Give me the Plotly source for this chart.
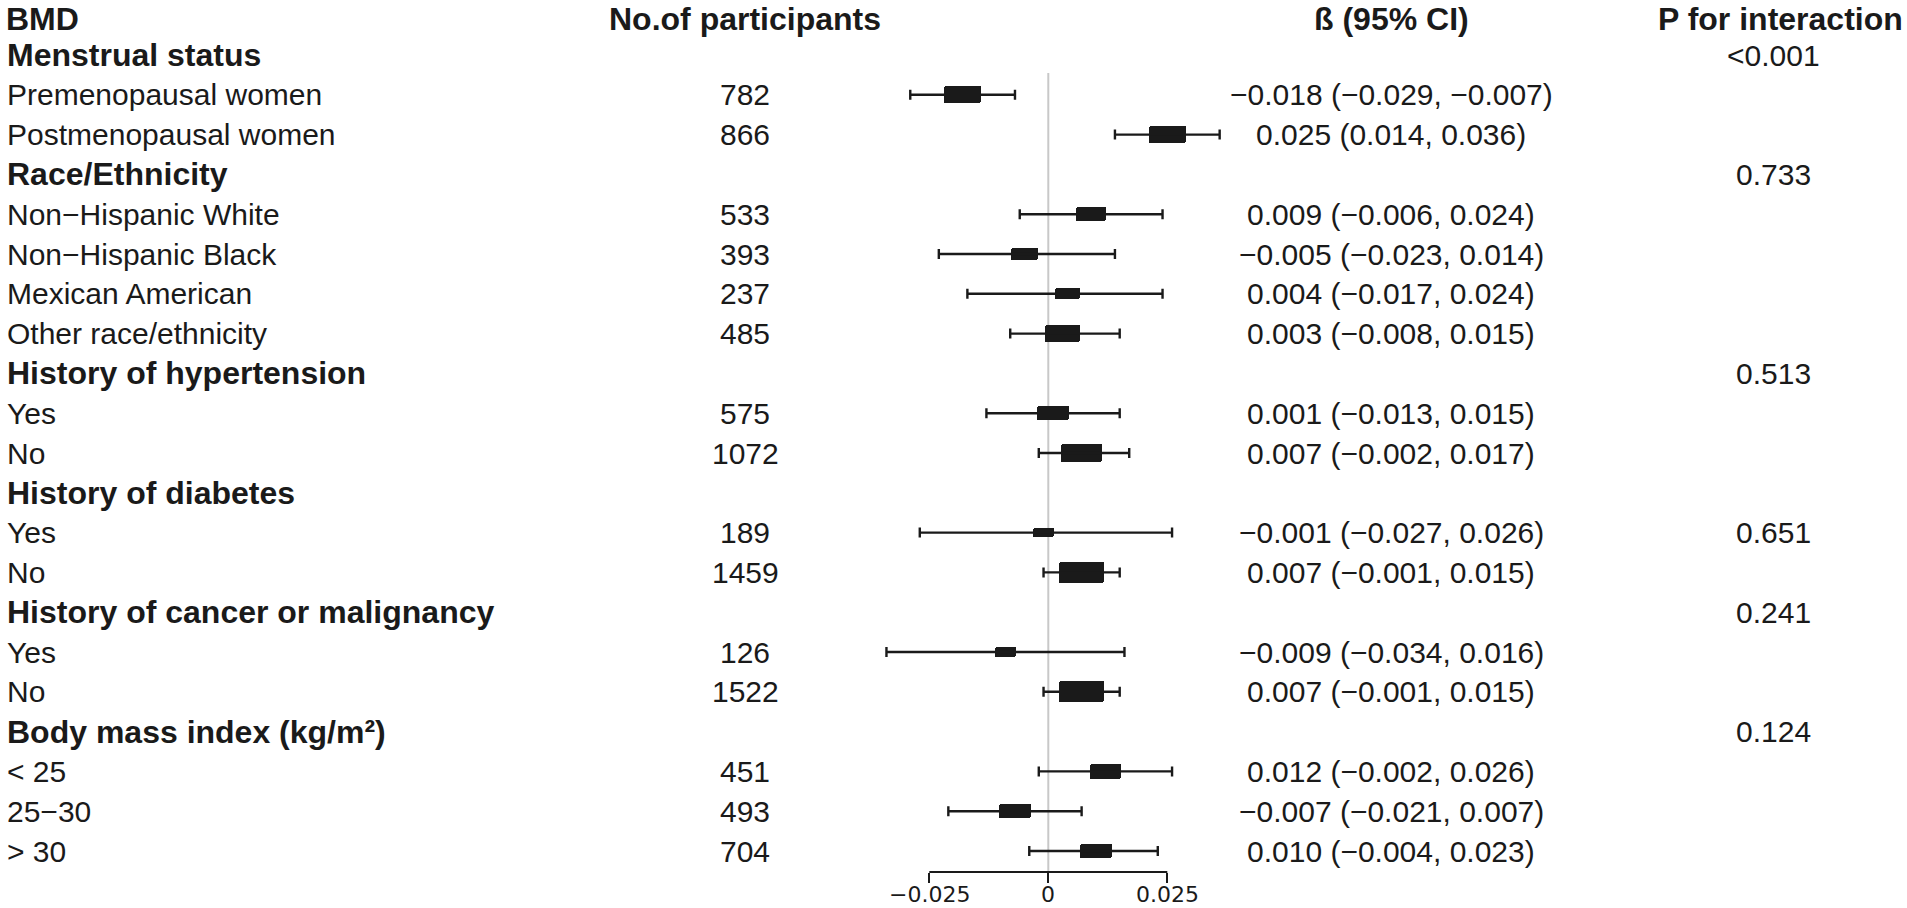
import plotly.graph_objects as go

# rows of the forest plot (top to bottom), headers have no estimate
labels = ["Menstrual status", "Premenopausal women", "Postmenopausal women",
          "Race/Ethnicity", "Non−Hispanic White", "Non−Hispanic Black",
          "Mexican American", "Other race/ethnicity",
          "History of hypertension", "Yes", "No",
          "History of diabetes", "Yes", "No",
          "History of cancer or malignancy", "Yes", "No",
          "Body mass index (kg/m²)", "< 25", "25−30", "> 30"]
is_header = [True, False, False,
             True, False, False, False, False,
             True, False, False,
             True, False, False,
             True, False, False,
             True, False, False, False]
n_participants = [None, 782, 866,
                  None, 533, 393, 237, 485,
                  None, 575, 1072,
                  None, 189, 1459,
                  None, 126, 1522,
                  None, 451, 493, 704]
beta = [None, -0.018, 0.025,
        None, 0.009, -0.005, 0.004, 0.003,
        None, 0.001, 0.007,
        None, -0.001, 0.007,
        None, -0.009, 0.007,
        None, 0.012, -0.007, 0.010]
ci_low = [None, -0.029, 0.014,
          None, -0.006, -0.023, -0.017, -0.008,
          None, -0.013, -0.002,
          None, -0.027, -0.001,
          None, -0.034, -0.001,
          None, -0.002, -0.021, -0.004]
ci_high = [None, -0.007, 0.036,
           None, 0.024, 0.014, 0.024, 0.015,
           None, 0.015, 0.017,
           None, 0.026, 0.015,
           None, 0.016, 0.015,
           None, 0.026, 0.007, 0.023]
p_interaction = ["<0.001", "", "",
                 "0.733", "", "", "", "",
                 "0.513", "", "",
                 "", "0.651", "",
                 "0.241", "", "",
                 "0.124", "", "", ""]

column_titles = ["BMD", "No.of participants", "ß (95% CI)", "P for interaction"]

x_ticks = [-0.025, 0, 0.025]
x_ticktext = ["−0.025", "0", "0.025"]

# geometry in page pixels
W, H = 1907, 908
zero_px = 1048.3
px_per_unit = 119 / 0.025
row_px = 39.8
row1_px = 55.0
bottom_px = 872.0

x_range = [-zero_px / px_per_unit, (W - zero_px) / px_per_unit]
y_top = -(row1_px - row_px) / row_px
y_bottom = (bottom_px - (row1_px - row_px)) / row_px
y_range = [y_bottom, y_top]

FONT = "Liberation Sans"
INK = "#1a1a1a"


def px(x):
    return x / W


def fmt(v):
    return f"{v:.3f}".replace("-", "−")


rows = list(range(1, len(labels) + 1))
data_rows = [r for r, h in zip(rows, is_header) if not h]
est = [b for b, h in zip(beta, is_header) if not h]
lo = [v for v, h in zip(ci_low, is_header) if not h]
hi = [v for v, h in zip(ci_high, is_header) if not h]

# box size follows precision (narrower CI -> bigger box)
box_w_px = [45 * (0.016 / (u - l)) ** 0.636 for l, u in zip(lo, hi)]
box_w = [w / px_per_unit for w in box_w_px]
box_h = [0.46 * w / row_px for w in box_w_px]

fig = go.Figure()

# confidence intervals
fig.add_trace(go.Scatter(
    x=est, y=data_rows, mode="markers",
    marker=dict(size=1, color="rgba(0,0,0,0)"),
    error_x=dict(type="data", symmetric=False,
                 array=[u - e for u, e in zip(hi, est)],
                 arrayminus=[e - l for e, l in zip(est, lo)],
                 color=INK, thickness=2.4, width=5),
    hoverinfo="skip", showlegend=False
))

# boxes
fig.add_trace(go.Bar(
    orientation="h", y=data_rows, x=box_w,
    base=[e - w / 2 for e, w in zip(est, box_w)],
    width=box_h,
    marker=dict(color=INK, line=dict(width=0), cornerradius=2),
    hoverinfo="skip", showlegend=False
))

bold = dict(size=32, family=FONT, color=INK)
reg = dict(size=30, family=FONT, color=INK)

ann = []
# column headers, hung from the top edge
for title, x, anchor in zip(column_titles, [5, 745, 1391, 1904],
                            ["left", "center", "center", "right"]):
    ann.append(dict(x=px(x), y=1, yref="paper", yanchor="top", xref="paper",
                    text=f"<b>{title}</b>", xanchor=anchor, font=bold,
                    showarrow=False, borderpad=0))

body = []
for r, lab, h, n, b, l, u, p in zip(rows, labels, is_header, n_participants,
                                    beta, ci_low, ci_high, p_interaction):
    if h:
        body.append(dict(x=px(5), y=r, text=f"<b>{lab}</b>", xanchor="left", font=bold))
    else:
        body.append(dict(x=px(5), y=r, text=lab, xanchor="left", font=reg))
        body.append(dict(x=px(745), y=r, text=str(n), xanchor="center", font=reg))
        body.append(dict(x=px(1391), y=r, text=f"{fmt(b)} ({fmt(l)}, {fmt(u)})",
                         xanchor="center", font=reg))
    if p:
        body.append(dict(x=px(1773), y=r, text=p, xanchor="center", font=reg))

for a in body:
    a.update(xref="paper", yref="y", yanchor="middle", showarrow=False)
ann += body

# x tick labels under the short axis, resting on the bottom edge
for t, tt in zip(x_ticks, x_ticktext):
    ann.append(dict(x=t, y=0, xref="x", yref="paper", text=tt, showarrow=False,
                    xanchor="center", yanchor="bottom", borderpad=0,
                    yshift=-(H - bottom_px),
                    font=dict(size=22, family="DejaVu Sans", color=INK)))

fig.update_layout(
    width=W, height=H,
    margin=dict(l=0, r=0, t=0, b=H - bottom_px),
    paper_bgcolor="white", plot_bgcolor="white",
    annotations=ann,
    bargap=0,
    shapes=[
        dict(type="line", xref="x", yref="y", x0=0, x1=0, y0=1.45, y1=y_bottom,
             line=dict(color="#c8c8c8", width=2), layer="below"),
        dict(type="line", xref="x", yref="paper", x0=x_ticks[0], x1=x_ticks[-1],
             y0=0, y1=0, line=dict(color=INK, width=2)),
    ],
    xaxis=dict(range=x_range, showgrid=False, zeroline=False, showline=False,
               tickvals=x_ticks, showticklabels=False, ticks="outside",
               ticklen=10, tickwidth=2, tickcolor=INK, fixedrange=True),
    yaxis=dict(range=y_range, showgrid=False, zeroline=False, showline=False,
               showticklabels=False, fixedrange=True),
)

# drop the default page margin so the figure fills the window
fig.write_html("out.html", config={"displayModeBar": False},
               post_script="document.body.style.margin='0';")
